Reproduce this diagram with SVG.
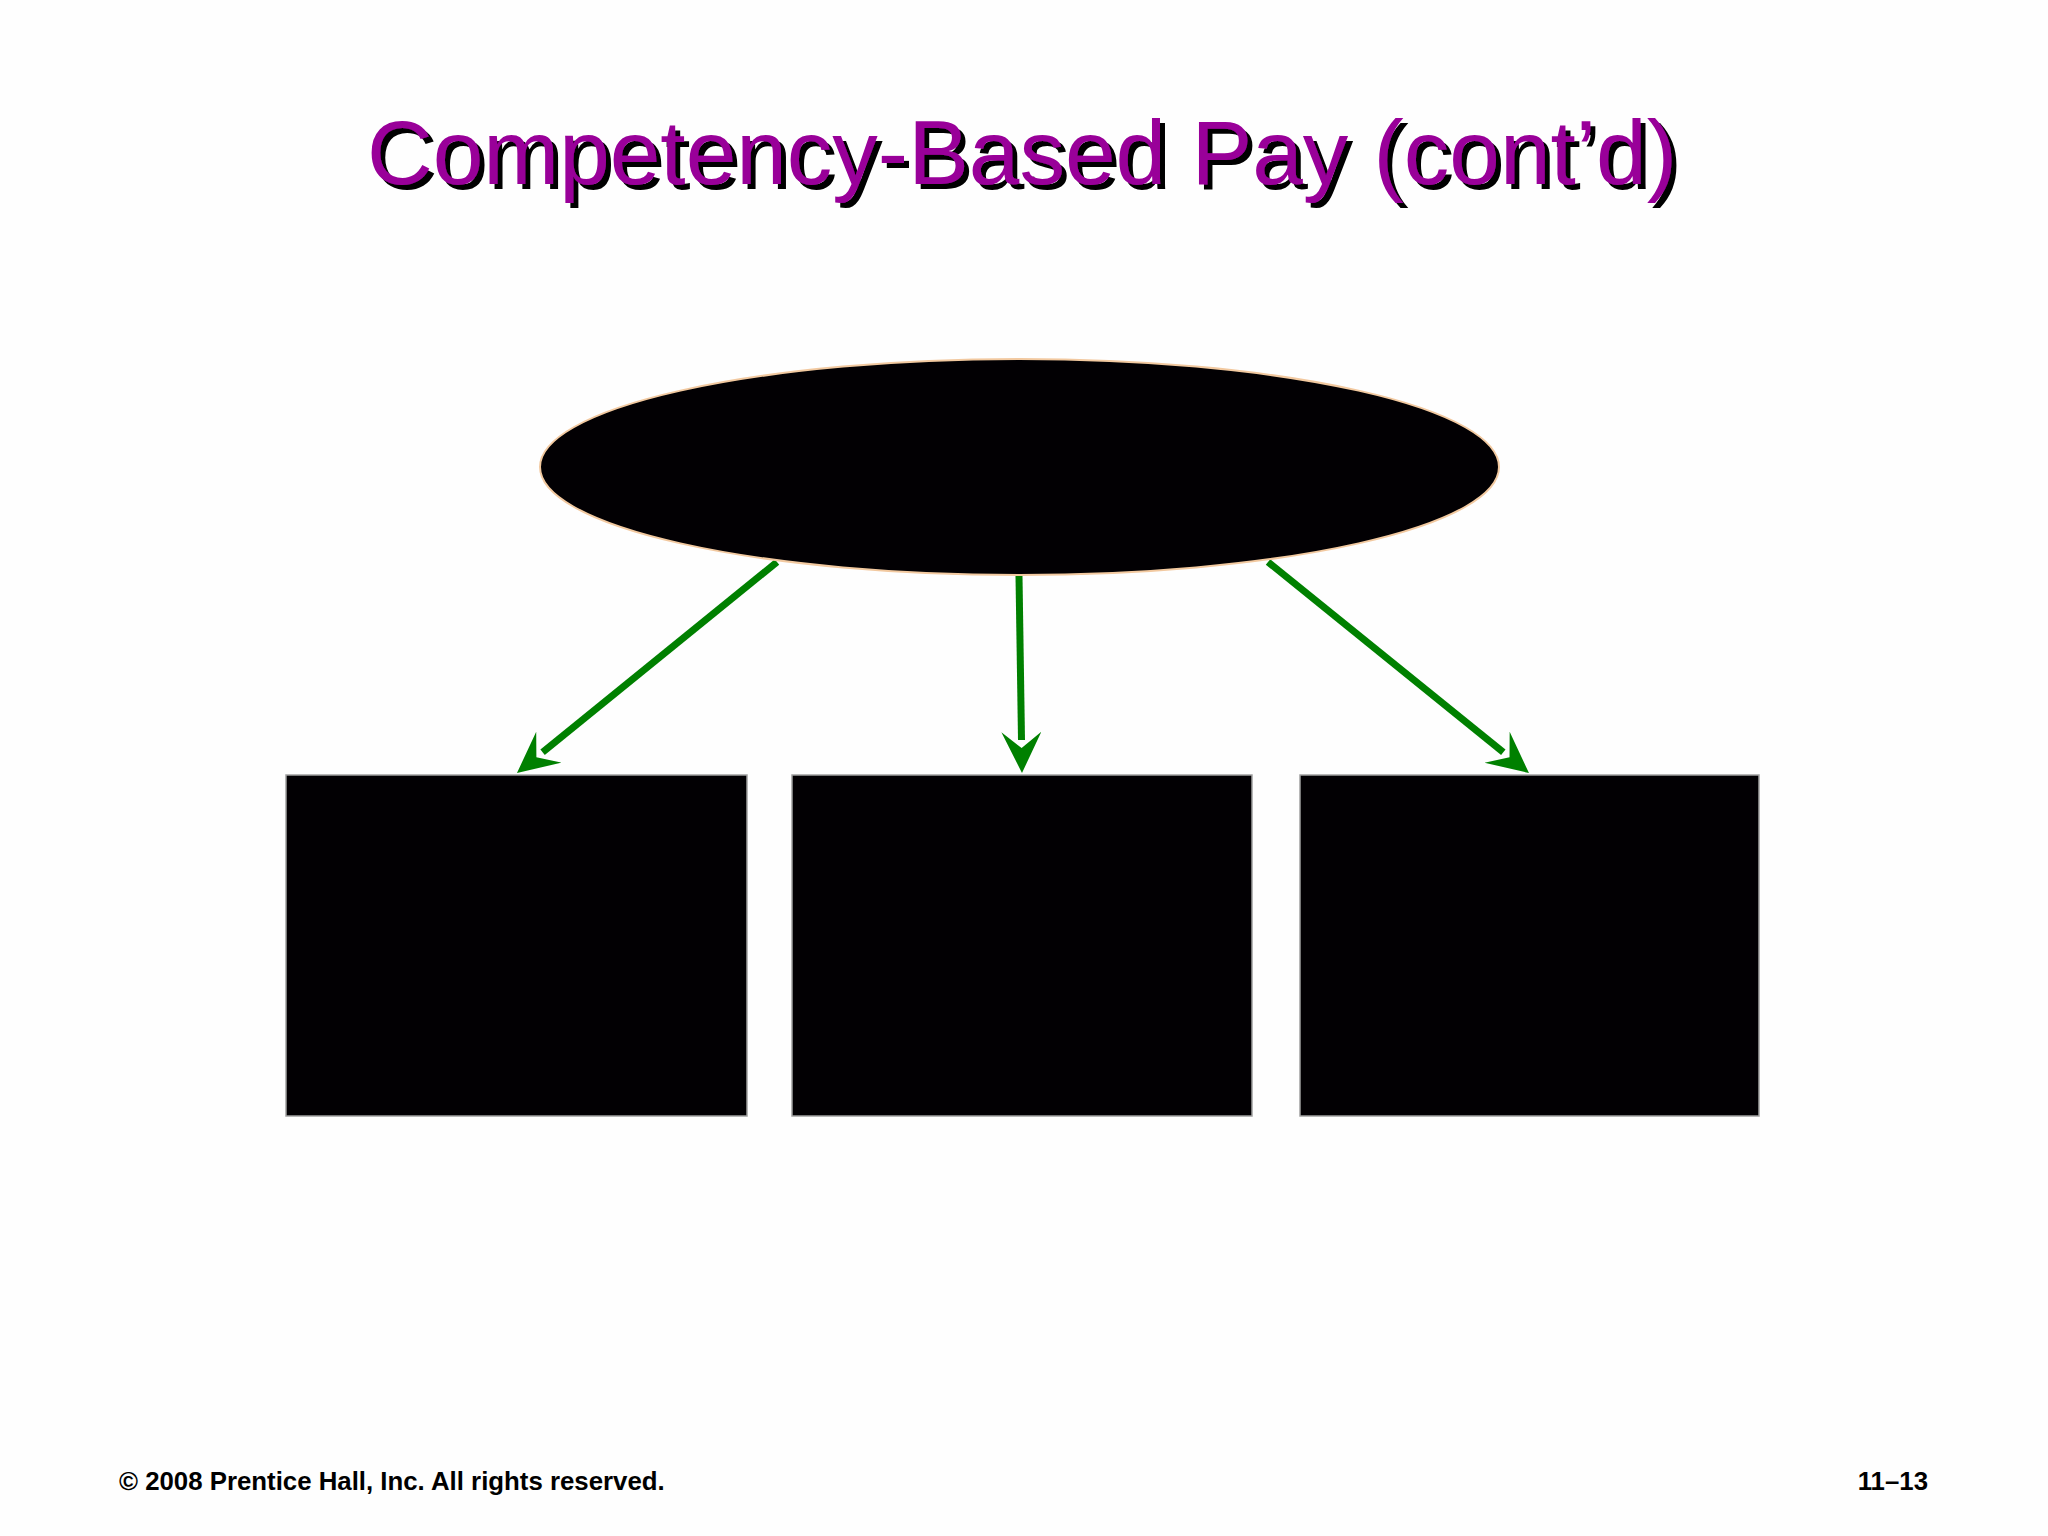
<svg xmlns="http://www.w3.org/2000/svg" width="2048" height="1536" viewBox="0 0 2048 1536">
  <style>
    .title { font-family: "Liberation Sans", Arial, sans-serif; font-size: 91px; text-anchor: middle; fill: #990099; }
    .foot { font-family: "Liberation Sans", Arial, sans-serif; font-size: 25.8px; font-weight: bold; fill: #000; }
    .box { fill: #020003; stroke: #a0a0a0; stroke-width: 1.5; }
    .conn { fill: none; stroke: #008000; stroke-width: 7; }
  </style>
  <defs>
    <marker id="arrow" markerUnits="userSpaceOnUse" markerWidth="44" markerHeight="44" viewBox="0 0 44 44" refX="8" refY="20" orient="auto">
      <path d="M41,20 L0,0 L16,20 L0,40 Z" fill="#008000"/>
    </marker>
    <filter id="shadow" x="-5%" y="-20%" width="110%" height="140%">
      <feOffset in="SourceAlpha" dx="5" dy="5" result="off"/>
      <feFlood flood-color="#000"/>
      <feComposite in2="off" operator="in" result="sh"/>
      <feMerge>
        <feMergeNode in="sh"/>
        <feMergeNode in="SourceGraphic"/>
      </feMerge>
    </filter>
  </defs>
  <rect x="0" y="0" width="2048" height="1536" fill="#fefefe"/>
  <g id="title">
    <text class="title" x="1022" y="184" filter="url(#shadow)">Competency-Based Pay (cont’d)</text>
  </g>
  <g id="connectors">
    <path class="conn" d="M777,562 L542.6,752.2" marker-end="url(#arrow)"/>
    <path class="conn" d="M1019,576 L1021.5,740" marker-end="url(#arrow)"/>
    <path class="conn" d="M1268,562 L1503.3,752.3" marker-end="url(#arrow)"/>
  </g>
  <g id="node-ellipse">
    <ellipse cx="1019.5" cy="467" rx="479.5" ry="108" fill="#020003" stroke="#f2c9a0" stroke-width="2"/>
  </g>
  <g id="node-box1">
    <rect class="box" x="286" y="775" width="461" height="341"/>
  </g>
  <g id="node-box2">
    <rect class="box" x="792" y="775" width="460" height="341"/>
  </g>
  <g id="node-box3">
    <rect class="box" x="1300" y="775" width="459" height="341"/>
  </g>
  <g id="footer">
    <text class="foot" x="119" y="1490">© 2008 Prentice Hall, Inc. All rights reserved.</text>
    <text class="foot" x="1928" y="1490" text-anchor="end">11–13</text>
  </g>
</svg>
